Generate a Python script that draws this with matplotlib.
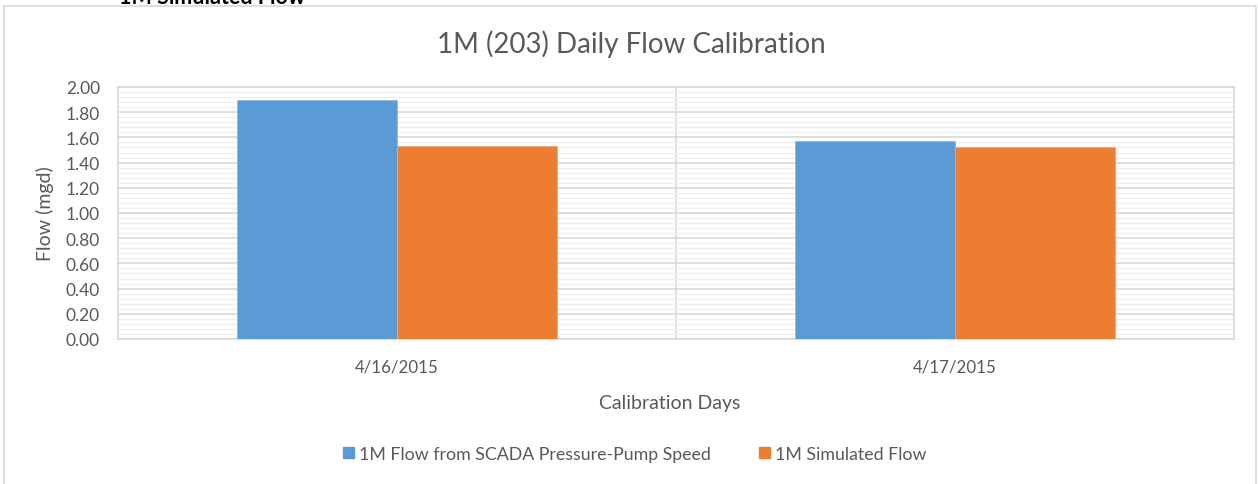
import matplotlib.pyplot as plt
import numpy as np
from matplotlib.patches import Rectangle, Patch

plt.rcParams['font.family'] = ['Lato', 'DejaVu Sans']

# daily flow, mgd
days = ['4/16/2015', '4/17/2015']
scada_flow = [1.90, 1.57]
sim_flow = [1.53, 1.52]
series_names = ['1M Flow from SCADA Pressure-Pump Speed', '1M Simulated Flow']

blue = '#5B9BD5'
orange = '#ED7D31'
txt = '#595959'
W, H = 1258, 485

fig = plt.figure(figsize=(W / 100, H / 100), dpi=100)
ax = fig.add_axes([118 / W, (H - 340) / H, (1234 - 118) / W, (340 - 88) / H])

x = np.arange(len(days))
w = 0.287
ax.bar(x - w / 2, scada_flow, w, color=blue, edgecolor='#8fbbe3', linewidth=0.6, zorder=3)
ax.bar(x + w / 2, sim_flow, w, color=orange, edgecolor='#f3a477', linewidth=0.6, zorder=3)

ax.set_xlim(-0.5, 1.5)
ax.set_ylim(0, 2.0)
ax.set_yticks(np.arange(0, 2.01, 0.2))
ax.set_yticklabels([f'{v:.2f}' for v in np.arange(0, 2.01, 0.2)])
ax.set_yticks(np.arange(0, 2.001, 0.04), minor=True)
ax.set_xticks(x)
ax.set_xticklabels(days)
ax.tick_params(axis='both', which='both', length=0, colors=txt)
ax.tick_params(axis='y', pad=13, labelsize=12.5)
ax.tick_params(axis='x', pad=14, labelsize=12.2)

ax.grid(axis='y', which='minor', color='#f0f0f0', linewidth=1.0, zorder=0)
ax.grid(axis='y', which='major', color='#d9d9d9', linewidth=1.2, zorder=1)
ax.axvline(0.5, color='#d9d9d9', linewidth=1.2, zorder=1)
for s in ax.spines.values():
    s.set_color('#d9d9d9')
    s.set_linewidth(1.2)

fig.text(631 / W, 1 - 44 / H, '1M (203) Daily Flow Calibration', ha='center', va='center',
         fontsize=20, color=txt)
fig.text(45 / W, 1 - 214 / H, 'Flow (mgd)', rotation=90, ha='center', va='center',
         fontsize=14, color=txt)
fig.text(670 / W, 1 - 403 / H, 'Calibration Days', ha='center', va='center',
         fontsize=14, color=txt)

# title of the chart above, mostly cut off at the top
fig.text(212 / W, 1 - 4.5 / H, '1M Simulated Flow', ha='center', va='baseline',
         fontsize=15.5, fontweight='bold', color='black')

# outer chart frame
fig.patches.append(Rectangle((4 / W, -0.05), (1256 - 4) / W, 1.05 - 7 / H,
                             transform=fig.transFigure, fill=False,
                             edgecolor='#d9d9d9', linewidth=1.2))

handles = [Patch(color=blue), Patch(color=orange)]
fig.legend(handles, series_names, loc='center', bbox_to_anchor=(635 / W, 1 - 455 / H),
           ncol=2, frameon=False, fontsize=12.8, labelcolor=txt,
           handlelength=0.6, handleheight=0.6, handletextpad=0.3, columnspacing=2.7)

fig.savefig('out.png', dpi=100)
